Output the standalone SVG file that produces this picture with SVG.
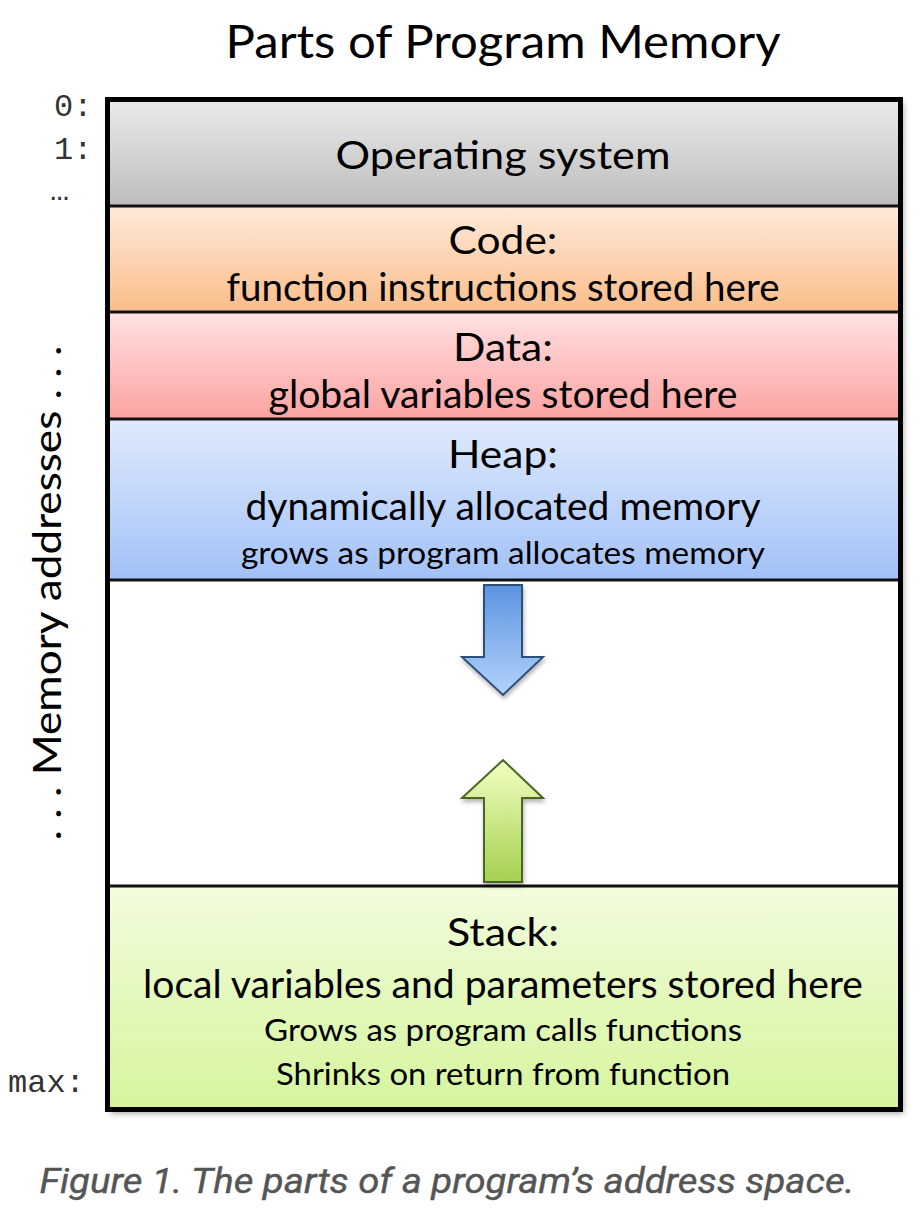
<svg xmlns="http://www.w3.org/2000/svg" width="922" height="1220" viewBox="0 0 922 1220">
<defs>
<linearGradient id="gOS" x1="0" y1="0" x2="0" y2="1"><stop offset="0" stop-color="#e9e9e9"/><stop offset="1" stop-color="#bdbdbd"/></linearGradient>
<linearGradient id="gCode" x1="0" y1="0" x2="0" y2="1"><stop offset="0" stop-color="#feeadb"/><stop offset="1" stop-color="#fbbd8a"/></linearGradient>
<linearGradient id="gData" x1="0" y1="0" x2="0" y2="1"><stop offset="0" stop-color="#ffe1e1"/><stop offset="1" stop-color="#fca2a2"/></linearGradient>
<linearGradient id="gHeap" x1="0" y1="0" x2="0" y2="1"><stop offset="0" stop-color="#e0eafd"/><stop offset="1" stop-color="#a2c1f7"/></linearGradient>
<linearGradient id="gStack" x1="0" y1="0" x2="0" y2="1"><stop offset="0" stop-color="#f1fcdc"/><stop offset="1" stop-color="#d6f59e"/></linearGradient>
<linearGradient id="gBlue" x1="0" y1="0" x2="0" y2="1"><stop offset="0" stop-color="#5c94e0"/><stop offset="1" stop-color="#b3d2fb"/></linearGradient>
<linearGradient id="gGreen" x1="0" y1="0" x2="0" y2="1"><stop offset="0" stop-color="#f3ffc2"/><stop offset="1" stop-color="#a4d04f"/></linearGradient>
<filter id="shadow" x="-5%" y="-5%" width="110%" height="110%"><feDropShadow dx="3" dy="4" stdDeviation="3" flood-color="#000" flood-opacity="0.35"/></filter>
<filter id="ashadow" x="-30%" y="-20%" width="160%" height="140%"><feDropShadow dx="1" dy="3" stdDeviation="2" flood-color="#000" flood-opacity="0.3"/></filter>
</defs>
<style>
.t{font-family:Lato,"Noto Sans",sans-serif;fill:#000;text-anchor:middle}
.big{font-size:38px}
.sm{font-size:31px}
.mono{font-family:"Liberation Mono",monospace;font-size:32px;fill:#333}
.div{stroke:#111;stroke-width:3}
</style>
<text class="t" x="503" y="58" font-size="46" textLength="555" lengthAdjust="spacingAndGlyphs">Parts of Program Memory</text>

<g id="labels">
<text class="mono" x="54" y="116">0:</text>
<text class="mono" x="54" y="159">1:</text>
<text class="mono" x="50" y="200" font-size="28">…</text>
<text class="mono" x="8" y="1092">max:</text>
<text class="t" font-size="38" transform="translate(61,593) rotate(-90)" textLength="495" lengthAdjust="spacingAndGlyphs">. . . Memory addresses . . .</text>
</g>

<g id="memory" filter="url(#shadow)">
<rect x="107.5" y="99.5" width="793" height="1010" fill="#fff" stroke="none"/>
</g>
<g id="os"><rect x="110" y="102" width="788" height="104" fill="url(#gOS)"/>
<text class="t big" x="503" y="169" textLength="335" lengthAdjust="spacingAndGlyphs">Operating system</text></g>
<g id="code"><rect x="110" y="206" width="788" height="106" fill="url(#gCode)"/>
<text class="t big" x="503" y="254" textLength="109" lengthAdjust="spacingAndGlyphs">Code:</text>
<text class="t big" x="503" y="301" textLength="553" lengthAdjust="spacingAndGlyphs">function instructions stored here</text></g>
<g id="data"><rect x="110" y="312" width="788" height="107" fill="url(#gData)"/>
<text class="t big" x="503" y="361" textLength="100" lengthAdjust="spacingAndGlyphs">Data:</text>
<text class="t big" x="503" y="408" textLength="469" lengthAdjust="spacingAndGlyphs">global variables stored here</text></g>
<g id="heap"><rect x="110" y="419" width="788" height="161" fill="url(#gHeap)"/>
<text class="t big" x="503" y="468" textLength="110" lengthAdjust="spacingAndGlyphs">Heap:</text>
<text class="t big" x="503" y="520" textLength="515" lengthAdjust="spacingAndGlyphs">dynamically allocated memory</text>
<text class="t sm" x="503" y="564" textLength="524" lengthAdjust="spacingAndGlyphs">grows as program allocates memory</text></g>
<g id="free"><rect x="110" y="580" width="788" height="306" fill="#fff"/></g>
<g id="stack"><rect x="110" y="886" width="788" height="221" fill="url(#gStack)"/>
<text class="t big" x="503" y="946" textLength="112" lengthAdjust="spacingAndGlyphs">Stack:</text>
<text class="t big" x="503" y="998" textLength="720" lengthAdjust="spacingAndGlyphs">local variables and parameters stored here</text>
<text class="t sm" x="503" y="1041" textLength="478" lengthAdjust="spacingAndGlyphs">Grows as program calls functions</text>
<text class="t sm" x="503" y="1085" textLength="454" lengthAdjust="spacingAndGlyphs">Shrinks on return from function</text></g>

<g id="connectors">
<line class="div" x1="108" y1="206" x2="900" y2="206"/>
<line class="div" x1="108" y1="312" x2="900" y2="312"/>
<line class="div" x1="108" y1="419" x2="900" y2="419"/>
<line class="div" x1="108" y1="580" x2="900" y2="580"/>
<line class="div" x1="108" y1="886" x2="900" y2="886"/>
<path d="M484,585 H522 V657 H543 L503,695 L462,657 H484 Z" fill="url(#gBlue)" stroke="#2f4f7a" stroke-width="2" filter="url(#ashadow)"/>
<path d="M484,882 H522 V798 H543 L503,760 L462,798 H484 Z" fill="url(#gGreen)" stroke="#4a6620" stroke-width="2" filter="url(#ashadow)"/>
</g>

<rect x="107.5" y="99.5" width="793" height="1010" fill="none" stroke="#000" stroke-width="5"/>

<text x="447" y="1193" font-family="Roboto,sans-serif" font-style="italic" font-size="35" fill="#555" stroke="#555" stroke-width="0.4" text-anchor="middle" textLength="815" lengthAdjust="spacingAndGlyphs">Figure 1. The parts of a program’s address space.</text>
</svg>
